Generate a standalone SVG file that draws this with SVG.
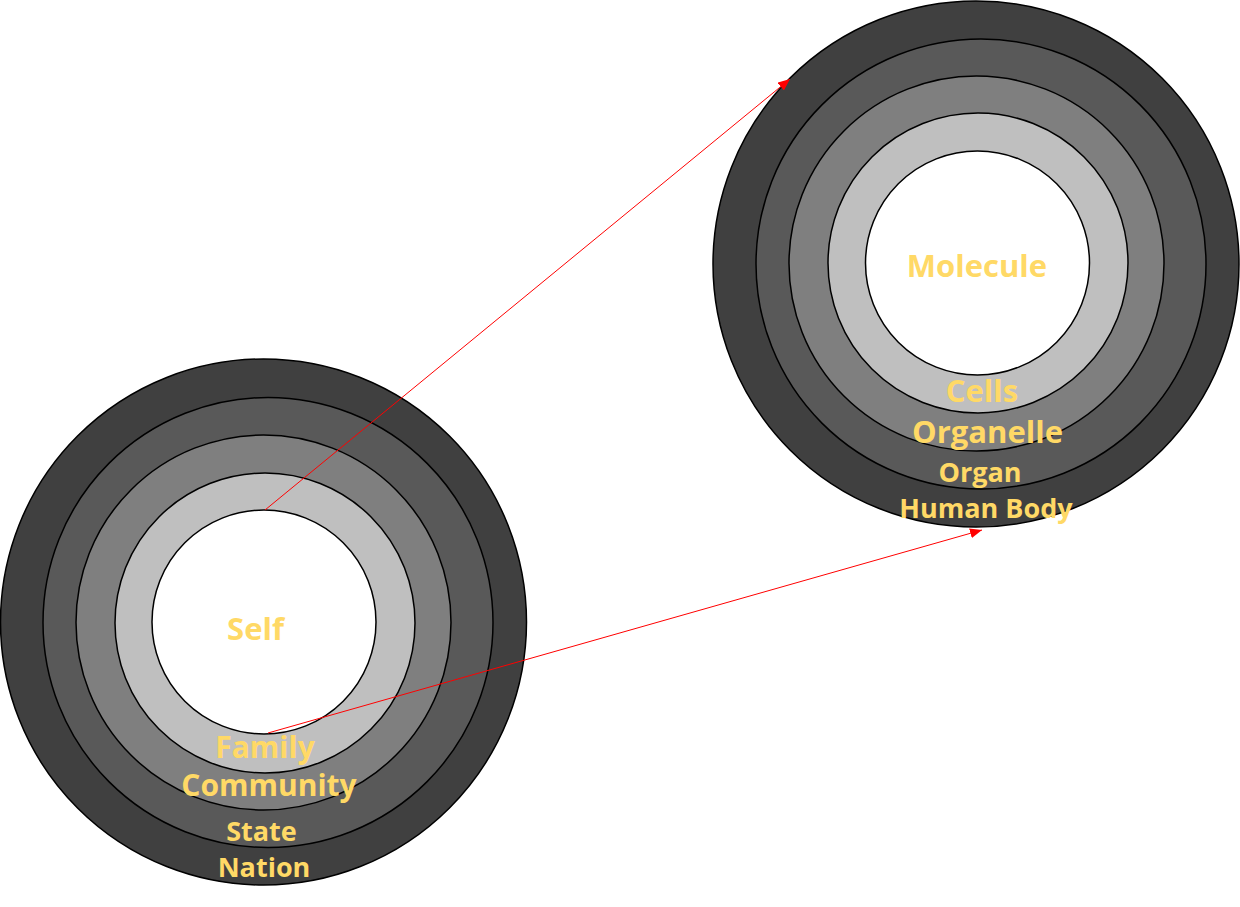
<svg xmlns="http://www.w3.org/2000/svg" width="1240" height="907" viewBox="0 0 1240 907">
<defs>
<style>
.ring{stroke:#000;stroke-width:1.5}
.r1{fill:#404040}.r2{fill:#595959}.r3{fill:#7f7f7f}.r4{fill:#bfbfbf}.r5{fill:#ffffff}
.lbl{font-family:"Open Sans","Noto Sans","Liberation Sans",sans-serif;font-weight:bold;fill:#ffd966;text-anchor:middle}
.big{font-size:31px}.mid{font-size:30px}.small{font-size:27px}
.conn{stroke:#ff0000;stroke-width:1;fill:none;marker-end:url(#arr)}
</style>
<marker id="arr" viewBox="0 0 12 10" refX="12" refY="5" markerWidth="12" markerHeight="10" markerUnits="userSpaceOnUse" orient="auto">
<path d="M0,0 L12,5 L0,10 z" fill="#ff0000"/>
</marker>
</defs>
<rect width="1240" height="907" fill="#ffffff"/>
<g id="society">
<circle class="ring r1" cx="263.5" cy="622" r="263"/>
<circle class="ring r2" cx="268" cy="622.5" r="225"/>
<circle class="ring r3" cx="263.5" cy="622.5" r="187.5"/>
<circle class="ring r4" cx="265" cy="623" r="150"/>
<circle class="ring r5" cx="264" cy="622" r="112"/>
<text class="lbl big" x="255.5" y="640">Self</text>
<text class="lbl mid" x="265" y="758">Family</text>
<text class="lbl mid" x="269" y="796">Community</text>
<text class="lbl small" x="261.5" y="841">State</text>
<text class="lbl small" x="264" y="877">Nation</text>
</g>
<g id="body">
<circle class="ring r1" cx="976" cy="264" r="263"/>
<circle class="ring r2" cx="981" cy="264" r="225"/>
<circle class="ring r3" cx="976.5" cy="263.5" r="187.5"/>
<circle class="ring r4" cx="978" cy="263" r="150"/>
<circle class="ring r5" cx="977.5" cy="263" r="112"/>
<text class="lbl big" x="977" y="277">Molecule</text>
<text class="lbl big" x="982" y="402">Cells</text>
<text class="lbl big" x="987.5" y="443">Organelle</text>
<text class="lbl small" x="980" y="482">Organ</text>
<text class="lbl small" x="986" y="518">Human Body</text>
</g>
<g id="connectors">
<line class="conn" x1="265" y1="510" x2="790" y2="79"/>
<line class="conn" x1="268" y1="733" x2="982" y2="530"/>
</g>
</svg>
